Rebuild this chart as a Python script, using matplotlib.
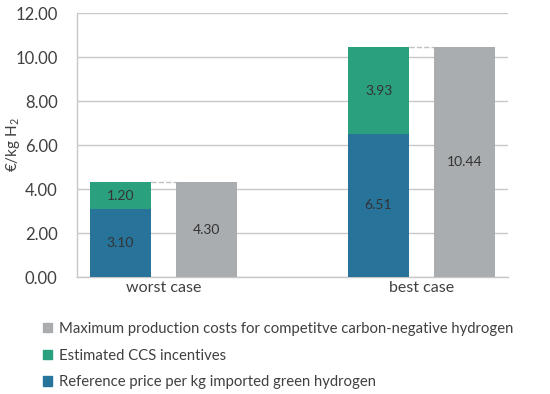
import matplotlib
matplotlib.use("Agg")
import matplotlib.pyplot as plt
from matplotlib.patches import Patch

categories = ["worst case", "best case"]
reference_price = [3.10, 6.51]
ccs_incentives = [1.20, 3.93]
max_costs = [4.30, 10.44]
yticks = [0, 2, 4, 6, 8, 10, 12]

c_blue = "#27739a"
c_green = "#2ba07e"
c_gray = "#a9adaf"
c_grid = "#c8c8c8"
c_text = "#404040"

plt.rcParams['font.family'] = ['Lato', 'DejaVu Sans']
plt.rcParams['mathtext.fontset'] = 'custom'
plt.rcParams['mathtext.rm'] = 'Lato'
plt.rcParams['mathtext.it'] = 'Lato:italic'

fig = plt.figure(figsize=(5.5, 3.94), dpi=100)
ax = fig.add_axes([77/550, 1-277/394, (508-77)/550, (277-13)/394])

w = 0.236
off = 0.1667
xs = list(range(len(categories)))
xl = [x - off for x in xs]
xr = [x + off for x in xs]

ax.bar(xl, reference_price, width=w, color=c_blue, zorder=3)
ax.bar(xl, ccs_incentives, width=w, bottom=reference_price, color=c_green, zorder=3)
ax.bar(xr, max_costs, width=w, color=c_gray, zorder=3)

for i in xs:
    ax.text(xl[i], reference_price[i]/2, f"{reference_price[i]:.2f}", ha='center', va='center', fontsize=10, color="#333333", zorder=4)
    ax.text(xl[i], reference_price[i] + ccs_incentives[i]/2, f"{ccs_incentives[i]:.2f}", ha='center', va='center', fontsize=10, color="#333333", zorder=4)
    ax.text(xr[i], max_costs[i]/2, f"{max_costs[i]:.2f}", ha='center', va='center', fontsize=10, color="#333333", zorder=4)
    top = reference_price[i] + ccs_incentives[i]
    ax.plot([xl[i] + w/2, xr[i] - w/2], [top, max_costs[i]], ls='--', color="#c0c0c0", lw=1, zorder=2)

ax.set_xlim(-0.335, 1.335)
ax.set_ylim(0, 12)
ax.set_yticks(yticks)
ax.set_yticklabels([f"{v:.2f}" for v in yticks], fontsize=12, color=c_text)
ax.set_xticks(xs)
ax.set_xticklabels(categories, fontsize=11.5, color=c_text)
ax.tick_params(axis='x', length=0, pad=3)
ax.tick_params(axis='y', length=0, pad=14)
ax.grid(axis='y', color=c_grid, lw=1, zorder=0)
for s in ['top', 'right']:
    ax.spines[s].set_visible(False)
for s in ['left', 'bottom']:
    ax.spines[s].set_color(c_grid)
    ax.spines[s].set_linewidth(1)
ax.set_ylabel("€/kg H$_{\\mathrm{2}}$", fontsize=11, color=c_text)
ax.yaxis.set_label_coords(-0.128, 0.5)

handles = [Patch(color=c_gray, label="Maximum production costs for competitve carbon-negative hydrogen"),
           Patch(color=c_green, label="Estimated CCS incentives"),
           Patch(color=c_blue, label="Reference price per kg imported green hydrogen")]
fig.legend(handles=handles, loc='upper left', bbox_to_anchor=(43/550, 1-322/394), frameon=False,
           fontsize=10.7, handlelength=0.6, handleheight=0.6, handletextpad=0.45, labelspacing=0.85,
           labelcolor=c_text, borderaxespad=0, borderpad=0)

fig.savefig("out.png", dpi=100)
